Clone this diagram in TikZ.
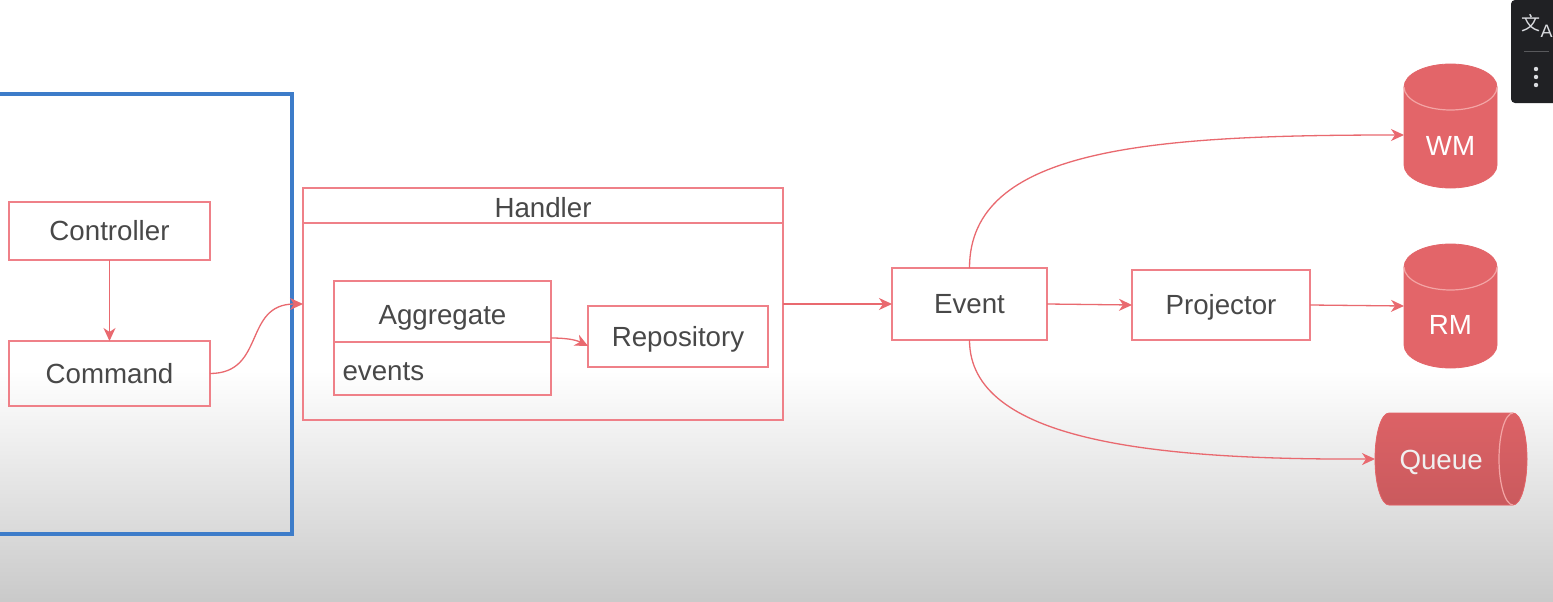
\documentclass[tikz,border=0pt]{standalone}
\usepackage{fontspec}
\setmainfont{Liberation Sans}
\newfontfamily\cjkfont{Noto Sans CJK SC}
\usetikzlibrary{arrows.meta}
\definecolor{boxline}{HTML}{EF8088}
\definecolor{arrowline}{HTML}{E9696F}
\definecolor{cylfill}{HTML}{E36569}
\definecolor{cyledge}{HTML}{F3A5A5}
\definecolor{inktext}{HTML}{484848}
\definecolor{framblue}{HTML}{3D7CC9}
\definecolor{chipdark}{HTML}{202124}
\definecolor{chipicon}{HTML}{DADCE0}
\tikzset{
  x=1pt,y=-1pt,
  boxnode/.style={draw=boxline,line width=1.3pt,rectangle,inner sep=0pt,outer sep=0pt,text=inktext,
    font=\fontsize{27.7}{30}\selectfont,align=center,text height=22pt,text depth=3pt},
  flow/.style={draw=arrowline,line width=1.3pt,-{Stealth[length=13pt,width=12pt,inset=4pt]}},
  cylbody/.style={fill=cylfill,draw=cylfill,line width=0.8pt},
  cyllabel/.style={rectangle,inner sep=0pt,outer sep=0pt,text=white,font=\fontsize{27.7}{30}\selectfont},
  cylrim/.style={draw=cyledge,line width=1.2pt}
}
\begin{document}
\begin{tikzpicture}
\useasboundingbox (0,0) rectangle (1553,602);
\fill[white] (0,0) rectangle (1553,372);
\shade[top color=white,bottom color=black!21] (0,370) rectangle (1553,602);

% blue frame
\draw[framblue,line width=4pt,line join=miter] (-5,94) -- (292,94) -- (292,534) -- (-5,534);

% boxes
\node[boxnode,minimum width=201pt,minimum height=58pt] (controller) at (109.5,231) {Controller};
\node[boxnode,minimum width=201pt,minimum height=65pt] (command) at (109.5,373.5) {Command};
\node[boxnode,minimum width=480pt,minimum height=35pt,text height=26pt] (handtitle) at (543,205.5) {Handler};
\node[boxnode,minimum width=480pt,minimum height=197pt] (handbody) at (543,321.5) {};
\node[boxnode,minimum width=217pt,minimum height=61pt,text height=28pt] (aggtop) at (442.5,311.5) {Aggregate};
\node[boxnode,minimum width=217pt,minimum height=53pt,text width=200pt,align=left,text height=26pt] (aggev) at (442.5,368.5) {events};
\node[boxnode,minimum width=180pt,minimum height=61pt] (repo) at (678,336.5) {Repository};
\node[boxnode,minimum width=155pt,minimum height=72pt] (event) at (969.5,304) {Event};
\node[boxnode,minimum width=178pt,minimum height=70pt] (projector) at (1221,305) {Projector};

% cylinders
\path[cylbody] (1404,87) arc[start angle=180,end angle=360,x radius=46.5,y radius=23] -- (1497,165) arc[start angle=0,end angle=180,x radius=46.5,y radius=23] -- cycle;
\draw[cylrim] (1404,87) arc[start angle=180,end angle=0,x radius=46.5,y radius=23];
\node[cyllabel,minimum width=93pt,minimum height=124pt,text height=60pt,text depth=2pt] (wm) at (1450.5,126) {WM};

\path[cylbody] (1404,267) arc[start angle=180,end angle=360,x radius=46.5,y radius=23] -- (1497,345) arc[start angle=0,end angle=180,x radius=46.5,y radius=23] -- cycle;
\draw[cylrim] (1404,267) arc[start angle=180,end angle=0,x radius=46.5,y radius=23];
\node[cyllabel,minimum width=93pt,minimum height=124pt,text height=58pt,text depth=2pt] (rm) at (1450.5,306) {RM};

\path[cylbody,top color=cylfill!97!black,bottom color=cylfill!89!black] (1389,413) arc[start angle=270,end angle=90,x radius=14,y radius=46] -- (1513,505) arc[start angle=90,end angle=-90,x radius=14,y radius=46] -- cycle;
\draw[cylrim] (1513,413) arc[start angle=270,end angle=90,x radius=14,y radius=46];
\node[cyllabel,text=black!6,minimum width=152pt,minimum height=92pt,text width=135pt,align=left,text height=22pt,text depth=2pt] (queue) at (1451,459) {\hspace*{16pt}Queue};

% connectors
\draw[flow] (controller.south) -- (command.north);
\draw[flow] (command.east) .. controls +(56,0) and (243,304) .. (handbody.west |- event.west);
\draw[flow] ([yshift=4pt]aggtop.south east) .. controls +(20,0) and +(-10,-5) .. ([yshift=-4pt]aggtop.south east -| repo.west);
\draw[flow] (handbody.east |- event.west) -- (event.west);
\draw[flow] (event.east) -- (projector.west);
\draw[flow] (projector.east) -- (rm.west);
\draw[flow] (event.north) .. controls +(0,-120) and (1150,135) .. ([yshift=-9pt]wm.west);
\draw[flow] (event.south) .. controls +(0,100) and (1150,460) .. (queue.west);

% overlay chip
\fill[chipdark,rounded corners=4pt] (1511,0) rectangle (1560,103);
\draw[chipicon!30!chipdark,line width=1pt] (1524,52) -- (1549,52);
\node[inner sep=0pt,text=chipicon,font=\cjkfont\fontsize{19}{20}\selectfont] (transzh) at (1531,23) {文};
\node[inner sep=0pt,text=chipicon,font=\fontsize{18}{18}\selectfont] (transa) at (1546.5,31) {A};
\fill[chipicon] (1536,69) circle (2.2) (1536,77) circle (2.2) (1536,85) circle (2.2);
\end{tikzpicture}
\end{document}
